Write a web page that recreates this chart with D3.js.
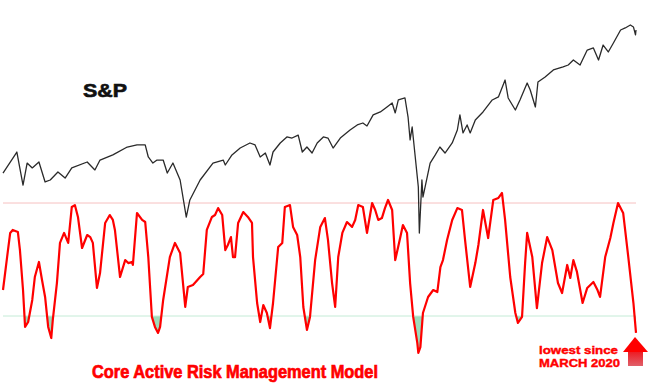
<!DOCTYPE html>
<html>
<head>
<meta charset="utf-8">
<script src="https://cdn.jsdelivr.net/npm/d3@7"></script>
<style>
  body { margin: 0; background: #fff; }
  svg { display: block; }
</style>
</head>
<body>
<div id="chart"></div>
<script>
// S&P 500 (log scale), days counted from 2 Jan 2018
var spxDays = [0, 27, 39, 47, 57, 70, 82, 92, 107, 121, 134, 164, 179, 189, 214, 242, 261, 277, 283, 292,
  300, 312, 320, 331, 345, 357, 364, 384, 409, 429, 433, 446, 462, 481, 491, 501, 511, 520, 526, 540,
  553, 563, 575, 583, 592, 602, 612, 624, 633, 643, 657, 676, 690, 701, 709, 721, 735, 748, 758, 764,
  770, 783, 789, 793, 797, 803, 809, 811, 816, 818, 832, 842, 851, 861, 875, 885, 890, 896, 904, 910,
  920, 935, 953, 965, 978, 984, 998, 1007, 1021, 1027, 1037, 1042, 1056, 1072, 1091, 1101, 1111, 1124, 1138, 1150,
  1160, 1169, 1179, 1189, 1203, 1212, 1222, 1228, 1232, 1233];
var spxValues = [2696, 2878, 2597, 2781, 2739, 2790, 2622, 2638, 2705, 2654, 2739, 2790, 2722, 2807, 2852, 2923, 2942, 2942, 2834, 2781,
  2807, 2807, 2696, 2781, 2638, 2351, 2479, 2638, 2781, 2807, 2764, 2852, 2914, 2960, 2942, 2834, 2869, 2764, 2878, 2960,
  3016, 3006, 3034, 2878, 2923, 2869, 2960, 3016, 3006, 2914, 3006, 3082, 3131, 3150, 3121, 3230, 3260, 3311, 3352, 3250,
  3384, 3405, 3209, 2988, 3111, 2834, 2581, 2237, 2638, 2502, 2781, 2852, 2923, 2869, 2960, 3082, 3230, 3054, 3131, 3054,
  3180, 3260, 3384, 3416, 3601, 3405, 3280, 3384, 3567, 3491, 3311, 3579, 3635, 3715, 3750, 3773, 3832, 3773, 3953, 3978,
  3832, 4015, 3929, 4040, 4207, 4234, 4273, 4247, 4143, 4207];

// Core Active Risk Management Model (0-100)
var modelDays = [0, 8, 14, 19, 29, 33, 39, 43, 49, 57, 62, 70, 76, 82, 88, 94, 97, 105, 111, 119,
  127, 134, 140, 146, 154, 164, 170, 175, 183, 189, 199, 208, 214, 218, 228, 238, 244, 251, 253, 261,
  271, 277, 283, 290, 296, 302, 306, 312, 325, 335, 345, 355, 360, 370, 384, 390, 397, 407, 413, 419,
  427, 433, 438, 444, 448, 452, 458, 468, 477, 485, 487, 495, 501, 507, 514, 520, 526, 536, 544, 549,
  559, 565, 573, 579, 585, 592, 598, 608, 618, 627, 633, 641, 647, 653, 661, 670, 680, 686, 692, 701,
  709, 719, 725, 731, 738, 744, 750, 758, 764, 774, 779, 787, 793, 799, 807, 809, 813, 818, 828, 838,
  846, 852, 857, 865, 875, 885, 894, 900, 910, 920, 926, 935, 945, 955, 965, 972, 978, 988, 998, 1003,
  1011, 1017, 1021, 1031, 1040, 1050, 1060, 1070, 1081, 1089, 1099, 1105, 1111, 1118, 1129, 1138, 1150, 1158, 1163, 1173,
  1183, 1189, 1198, 1208, 1218, 1228, 1233];
var modelValues = [33.8, 51.3, 64.1, 65.7, 64.6, 55.0, 33.8, 14.2, 16.8, 28.5, 40.7, 48.7, 39.1, 30.1, 14.2, 8.3, 17.9, 37.5, 58.8, 64.1,
  58.8, 77.9, 78.9, 72.6, 56.1, 63.0, 61.9, 58.8, 34.9, 42.8, 69.4, 73.6, 71.0, 65.7, 40.7, 49.7, 48.1, 48.7, 47.1, 74.7,
  71.0, 69.9, 51.3, 19.5, 14.2, 11.0, 14.2, 28.5, 51.3, 58.8, 53.5, 24.8, 35.4, 36.5, 40.7, 42.3, 65.7, 72.6, 73.6, 77.3,
  73.6, 55.0, 57.7, 61.9, 51.3, 51.3, 69.4, 75.2, 72.6, 69.4, 51.3, 26.9, 16.8, 25.8, 21.6, 13.6, 26.9, 56.6, 58.8, 77.9,
  78.9, 67.3, 63.0, 51.3, 24.8, 12.6, 19.5, 49.7, 67.3, 72.0, 60.4, 37.5, 24.8, 51.3, 64.1, 69.9, 67.3, 71.0, 78.9, 77.9,
  64.1, 80.0, 76.3, 71.0, 72.0, 77.3, 81.6, 76.3, 49.7, 61.9, 68.3, 64.1, 37.5, 19.5, 5.7, 0.4, 3.5, 21.6, 30.1, 33.8,
  32.7, 46.0, 49.7, 60.4, 71.0, 77.3, 76.3, 60.4, 35.4, 48.1, 57.7, 76.3, 61.4, 81.6, 82.7, 85.3, 71.0, 40.7, 21.6, 16.3,
  19.5, 48.1, 64.1, 51.3, 24.2, 48.1, 61.9, 55.0, 37.5, 32.2, 47.1, 40.2, 49.7, 43.4, 26.9, 34.9, 38.1, 33.8, 30.1, 51.3,
  61.4, 69.4, 80.0, 74.7, 51.3, 26.9, 11.0];

var upperLevel = 80;
var lowerLevel = 20;

var labelSpx = "S&P";
var labelModel = "Core Active Risk Management Model";
var noteLines = ["lowest since", "MARCH 2020"];

var width = 654,
    height = 385;

var startDate = new Date(2018, 0, 2);
function toDate(d) { return d3.timeDay.offset(startDate, d); }

var spx = spxDays.map(function(d, i) { return { date: toDate(d), value: spxValues[i] }; });
var model = modelDays.map(function(d, i) { return { date: toDate(d), value: modelValues[i] }; });

var svg = d3.select("#chart")
  .append("svg")
    .attr("width", width)
    .attr("height", height);

var x = d3.scaleTime()
  .domain([toDate(0), toDate(1233)])
  .range([3, 636]);

var ySpx = d3.scaleLog()
  .domain([2237, 4273])
  .range([233, 25]);

var yModel = d3.scaleLinear()
  .domain([lowerLevel, upperLevel])
  .range([316, 203]);

// green shading under the lower level
svg.append("clipPath")
    .attr("id", "below")
  .append("rect")
    .attr("x", 0)
    .attr("y", yModel(lowerLevel))
    .attr("width", width)
    .attr("height", height - yModel(lowerLevel));

var area = d3.area()
  .x(function(d) { return x(d.date); })
  .y0(yModel(lowerLevel))
  .y1(function(d) { return yModel(d.value); });

svg.append("path")
  .datum(model)
  .attr("clip-path", "url(#below)")
  .attr("d", area)
  .attr("fill", "#9edcbb");

// reference levels
svg.append("line")
  .attr("x1", x.range()[0]).attr("x2", x.range()[1])
  .attr("y1", yModel(upperLevel)).attr("y2", yModel(upperLevel))
  .attr("stroke", "#f6c0c0")
  .attr("stroke-width", 1);

svg.append("line")
  .attr("x1", x.range()[0]).attr("x2", x.range()[1])
  .attr("y1", yModel(lowerLevel)).attr("y2", yModel(lowerLevel))
  .attr("stroke", "#c4ebd6")
  .attr("stroke-width", 1);

// S&P line
svg.append("path")
  .datum(spx)
  .attr("fill", "none")
  .attr("stroke", "#2a2a2a")
  .attr("stroke-width", 1.3)
  .attr("stroke-linejoin", "round")
  .attr("d", d3.line()
    .x(function(d) { return x(d.date); })
    .y(function(d) { return ySpx(d.value); }));

// model line
svg.append("path")
  .datum(model)
  .attr("fill", "none")
  .attr("stroke", "#ff0000")
  .attr("stroke-width", 2.2)
  .attr("stroke-linejoin", "round")
  .attr("d", d3.line()
    .x(function(d) { return x(d.date); })
    .y(function(d) { return yModel(d.value); }));

// labels (stroke added to get the heavy look of the original)
svg.append("text")
  .attr("x", 83)
  .attr("y", 97)
  .attr("textLength", 44)
  .attr("lengthAdjust", "spacingAndGlyphs")
  .style("font-family", "Liberation Sans, Arial, sans-serif")
  .style("font-weight", "bold")
  .style("font-size", "18px")
  .style("fill", "#111")
  .style("stroke", "#111")
  .style("stroke-width", 0.6)
  .text(labelSpx);

svg.append("text")
  .attr("x", 92)
  .attr("y", 378)
  .attr("textLength", 286)
  .attr("lengthAdjust", "spacingAndGlyphs")
  .style("font-family", "Liberation Sans, Arial, sans-serif")
  .style("font-weight", "bold")
  .style("font-size", "18px")
  .style("fill", "#ff0000")
  .style("stroke", "#ff0000")
  .style("stroke-width", 0.7)
  .text(labelModel);

svg.selectAll(".note")
  .data(noteLines)
  .enter()
  .append("text")
    .attr("class", "note")
    .attr("x", 539)
    .attr("y", function(d, i) { return 354 + i * 13; })
    .attr("textLength", function(d, i) { return i ? 81 : 79; })
    .attr("lengthAdjust", "spacingAndGlyphs")
    .style("font-family", "Liberation Sans, Arial, sans-serif")
    .style("font-weight", "bold")
    .style("font-size", "11px")
    .style("fill", "#ff0000")
    .style("stroke", "#ff0000")
    .style("stroke-width", 0.4)
    .text(function(d) { return d; });

// arrow pointing at the last reading
var defs = svg.append("defs");
var grad = defs.append("linearGradient")
  .attr("id", "shaft")
  .attr("x1", 0).attr("y1", 0).attr("x2", 0).attr("y2", 1);
grad.append("stop").attr("offset", "0%").attr("stop-color", "#ee1c24");
grad.append("stop").attr("offset", "100%").attr("stop-color", "#e0606a");

var ax = x(toDate(modelDays[modelDays.length - 1])) - 1;
svg.append("path")
  .attr("d", "M" + ax + ",337 L" + (ax + 13) + ",352 L" + (ax - 12) + ",352 Z")
  .attr("fill", "#ff0000");
svg.append("rect")
  .attr("x", ax - 7)
  .attr("y", 352)
  .attr("width", 15)
  .attr("height", 14)
  .attr("fill", "url(#shaft)");
</script>
</body>
</html>
